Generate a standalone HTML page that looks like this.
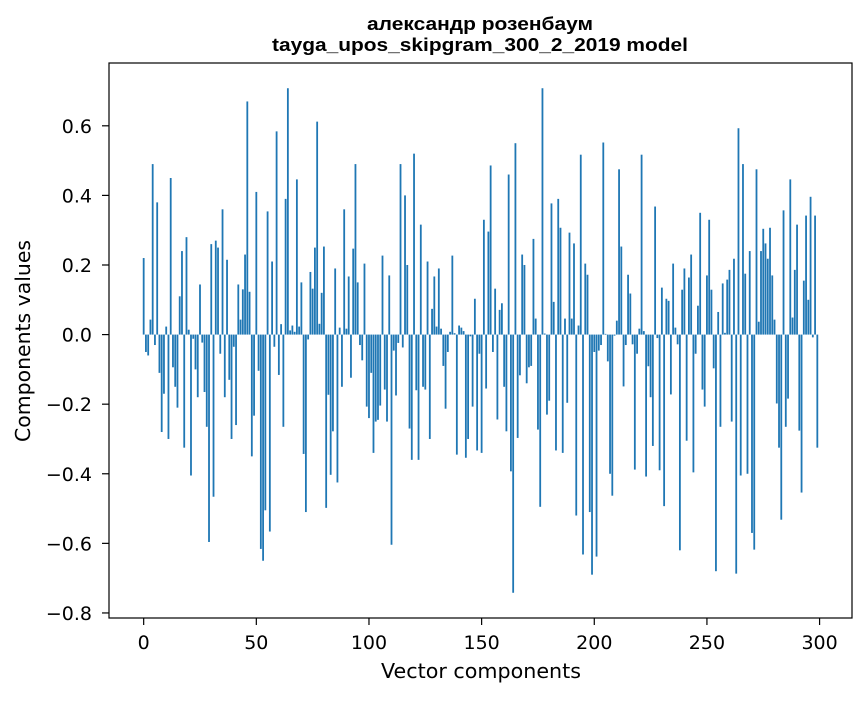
<!DOCTYPE html>
<html><head><meta charset="utf-8"><style>
body{margin:0;background:#fff;}
svg text{font-family:"DejaVu Sans","Liberation Sans",sans-serif;fill:#000;}
svg text.ttl{font-family:"Liberation Sans","DejaVu Sans",sans-serif;}
</style></head><body>
<svg id="chart" width="867" height="696" xmlns="http://www.w3.org/2000/svg">
<rect width="867" height="696" fill="#fff"/>
<text class="ttl" x="480" y="30" text-anchor="middle" font-size="18" font-weight="bold" textLength="226" lengthAdjust="spacingAndGlyphs">александр розенбаум</text>
<text class="ttl" x="480" y="51" text-anchor="middle" font-size="18" font-weight="bold" textLength="416" lengthAdjust="spacingAndGlyphs">tayga_upos_skipgram_300_2_2019 model</text>
<g id="bars"></g>
<g id="xticks"></g>
<g id="yticks"></g>
<rect x="109" y="63" width="743" height="555" fill="none" stroke="#000" stroke-width="1.2"/>
<text x="481" y="678" text-anchor="middle" font-size="20" textLength="200" lengthAdjust="spacingAndGlyphs">Vector components</text>
<text transform="translate(30,341) rotate(-90)" text-anchor="middle" font-size="20" textLength="202" lengthAdjust="spacingAndGlyphs">Components values</text>
</svg>
<script>
const values = [0.22,-0.05,-0.06,0.043,0.49,-0.03,0.38,-0.11,-0.28,-0.17,
0.023,-0.30,0.45,-0.094,-0.15,-0.21,0.11,0.24,-0.325,0.28,
0.014,-0.405,-0.012,-0.10,-0.18,0.144,-0.023,-0.165,-0.265,-0.596,
0.26,-0.466,0.27,0.25,-0.055,0.36,-0.18,0.215,-0.13,-0.30,
-0.035,-0.26,0.144,0.043,0.13,0.23,0.67,0.123,-0.35,-0.233,
0.41,-0.104,-0.616,-0.65,-0.505,0.354,-0.566,0.21,-0.035,0.584,
-0.116,0.03,-0.265,0.39,0.708,0.012,0.026,0.008,0.446,0.023,
0.15,-0.343,-0.51,-0.014,0.18,0.132,0.25,0.612,0.031,0.12,
0.253,-0.498,-0.173,-0.403,-0.278,0.19,-0.425,0.02,-0.15,0.36,
0.017,0.167,-0.124,0.247,0.49,0.15,-0.03,-0.074,0.204,-0.207,
-0.24,-0.11,-0.34,-0.25,-0.245,-0.204,0.227,-0.158,-0.25,0.17,
-0.604,-0.046,-0.175,-0.024,0.49,-0.037,0.40,0.20,-0.27,-0.36,
0.52,-0.16,-0.36,0.316,-0.15,-0.158,0.21,-0.30,0.074,0.167,
0.023,0.19,0.017,-0.09,-0.213,-0.05,0.008,0.227,0.004,-0.345,
0.026,0.02,0.01,-0.354,-0.30,-0.005,-0.207,0.103,-0.333,-0.055,
-0.34,0.33,-0.155,0.296,0.486,-0.05,0.132,-0.244,0.071,0.09,
-0.15,-0.278,0.46,-0.393,-0.742,0.55,-0.297,-0.117,0.23,0.20,
-0.14,-0.094,-0.09,0.275,0.046,-0.273,-0.495,0.708,0.003,-0.23,
-0.19,0.377,0.094,-0.333,0.39,0.307,-0.34,0.046,-0.196,0.293,
0.046,0.262,-0.52,0.026,0.517,-0.632,0.204,0.172,-0.51,-0.69,
-0.05,-0.638,-0.046,-0.03,0.552,0.002,-0.077,-0.40,-0.463,-0.003,
0.04,0.475,0.253,-0.149,-0.03,0.172,0.118,-0.028,-0.388,-0.055,
0.017,0.517,0.01,-0.408,-0.091,-0.18,-0.32,0.368,-0.01,-0.39,
0.135,-0.493,0.103,0.097,-0.172,0.204,0.02,-0.028,-0.62,0.129,
0.19,-0.305,0.164,0.23,-0.396,-0.055,0.083,0.35,-0.158,-0.207,
0.17,0.33,0.129,-0.097,-0.68,0.065,-0.265,0.147,0.005,0.158,
0.186,-0.25,0.218,-0.687,0.593,-0.405,0.49,0.175,-0.40,0.24,
-0.57,-0.618,0.475,0.037,0.24,0.304,0.262,0.218,0.307,0.17,
0.043,-0.198,-0.325,-0.532,0.357,-0.265,-0.184,0.446,0.049,0.186,
0.316,-0.276,-0.454,0.155,0.342,0.10,0.396,-0.008,0.342,-0.325];
const xTickValues = [0,50,100,150,200,250,300];
const yTickValues = [-0.8,-0.6,-0.4,-0.2,0.0,0.2,0.4,0.6];

const NS = "http://www.w3.org/2000/svg";
const L = 109, R = 852, T = 63, B = 618;
const n = values.length;
const xMin = -0.4 - 0.05 * (n - 0.2), xMax = n - 1 + 0.4 + 0.05 * (n - 0.2);
const vMin = Math.min(...values), vMax = Math.max(...values);
const pad = 0.05 * (Math.max(vMax, 0) - Math.min(vMin, 0));
const yMin = Math.min(vMin, 0) - pad, yMax = Math.max(vMax, 0) + pad;
const xs = v => L + (v - xMin) / (xMax - xMin) * (R - L);
const ys = v => B - (v - yMin) / (yMax - yMin) * (B - T);

const bars = document.getElementById('bars');
values.forEach((v, i) => {
  const r = document.createElementNS(NS, 'rect');
  const x0 = xs(i - 0.4), x1 = xs(i + 0.4);
  const y0 = ys(Math.max(v, 0)), y1 = ys(Math.min(v, 0));
  r.setAttribute('x', x0);
  r.setAttribute('width', x1 - x0);
  r.setAttribute('y', y0);
  r.setAttribute('height', Math.max(y1 - y0, 0.3));
  r.setAttribute('fill', '#1f77b4');
  
  
  bars.appendChild(r);
});

const xg = document.getElementById('xticks');
xTickValues.forEach(t => {
  const x = xs(t);
  const ln = document.createElementNS(NS, 'line');
  ln.setAttribute('x1', x); ln.setAttribute('x2', x);
  ln.setAttribute('y1', B); ln.setAttribute('y2', B + 7);
  ln.setAttribute('stroke', '#000');
  ln.setAttribute('stroke-width', '1.2');
  
  
  xg.appendChild(ln);
  const tx = document.createElementNS(NS, 'text');
  tx.setAttribute('x', x); tx.setAttribute('y', 649);
  tx.setAttribute('text-anchor', 'middle');
  tx.setAttribute('font-size', '19');
  tx.textContent = String(t);
  
  
  xg.appendChild(tx);
});

const yg = document.getElementById('yticks');
yTickValues.forEach(t => {
  const y = ys(t);
  const ln = document.createElementNS(NS, 'line');
  ln.setAttribute('x1', L - 7); ln.setAttribute('x2', L);
  ln.setAttribute('y1', y); ln.setAttribute('y2', y);
  ln.setAttribute('stroke', '#000');
  ln.setAttribute('stroke-width', '1.2');
  
  
  yg.appendChild(ln);
  const tx = document.createElementNS(NS, 'text');
  tx.setAttribute('x', 92); tx.setAttribute('y', y + 7);
  tx.setAttribute('text-anchor', 'end');
  tx.setAttribute('font-size', '19');
  tx.textContent = t.toFixed(1).replace('-', '\u2212');
  
  
  yg.appendChild(tx);
});
</script>
</body></html>
